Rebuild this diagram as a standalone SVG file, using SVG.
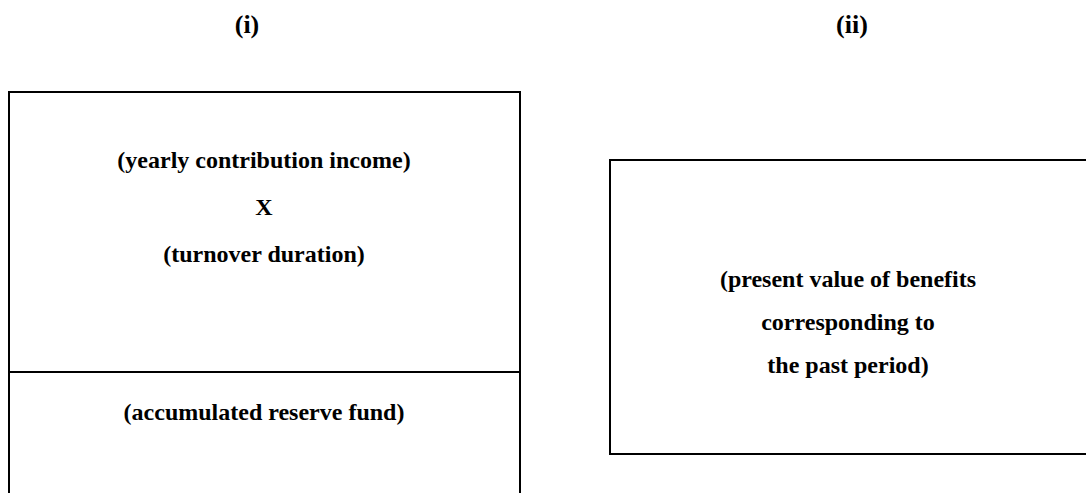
<svg xmlns="http://www.w3.org/2000/svg" width="1086" height="493" viewBox="0 0 1086 493">
<style>
text{font-family:"Liberation Serif","Times New Roman",serif;font-weight:bold;font-size:24px;text-anchor:middle;fill:#000}
.hd{font-size:26px}
.ln{stroke:#000;stroke-width:2;fill:none}
</style>
<rect width="1086" height="493" fill="#fff"/>
<g id="header-i"><text class="hd" x="247" y="33">(i)</text></g>
<g id="header-ii"><text class="hd" x="852" y="33">(ii)</text></g>
<g id="node-left">
<path class="ln" d="M9,493 V92 H520 V493"/>
<text x="264" y="168">(yearly contribution income)</text>
<text x="264" y="215">X</text>
<text x="264" y="262">(turnover duration)</text>
</g>
<g id="node-left-bottom">
<path class="ln" d="M9,372 H520"/>
<text x="264" y="420">(accumulated reserve fund)</text>
</g>
<g id="node-right">
<path class="ln" d="M1086,160 H610 V454 H1086"/>
<text x="848" y="287">(present value of benefits</text>
<text x="848" y="330">corresponding to</text>
<text x="848" y="373">the past period)</text>
</g>
<g id="connectors"></g>
</svg>
